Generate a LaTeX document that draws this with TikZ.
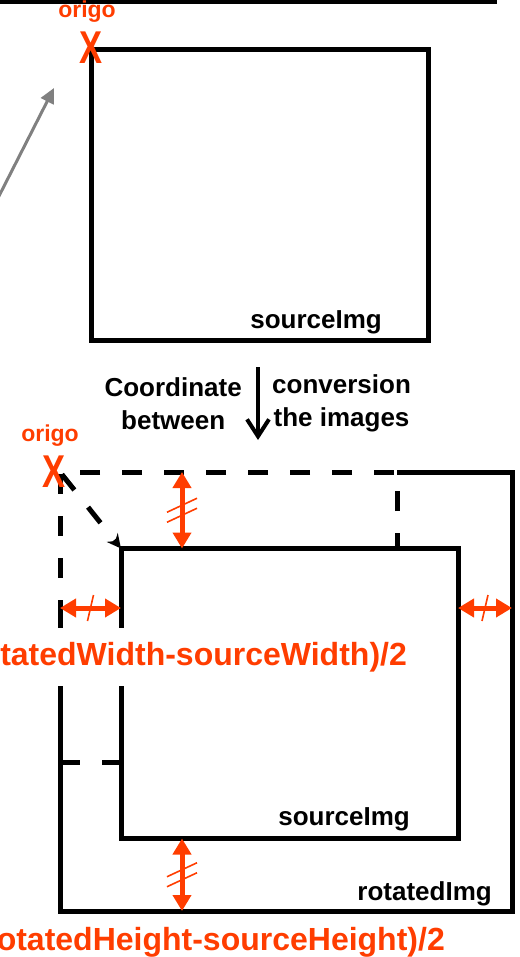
\documentclass[tikz,border=0pt]{standalone}
\usepackage{graphicx}
\usepackage{fontspec}
\setmainfont{Liberation Sans}
\usetikzlibrary{arrows.meta,positioning}
\definecolor{markred}{RGB}{255,61,0}

\begin{document}
\begin{tikzpicture}[
    x=1pt, y=-1pt,
    node distance=14pt,
    imgbox/.style={rectangle, draw, line width=5pt, outer sep=0pt, inner sep=0pt, minimum width=337pt, minimum height=290pt},
    tag/.style={font=\fontsize{26}{33}\selectfont\bfseries, inner sep=0pt},
    redtag/.style={text=markred, font=\fontsize{32}{36}\selectfont\bfseries, inner sep=0pt},
    origotag/.style={text=markred, font=\fontsize{23}{23}\selectfont\bfseries, inner sep=0pt},
    crossmark/.style={text=markred, font=\fontsize{46}{46}\selectfont\bfseries, inner sep=0pt},
    gap/.style={draw=markred, line width=5pt, {Triangle[length=16pt,width=18pt]}-{Triangle[length=16pt,width=18pt]}},
    hash/.style={draw=markred, line width=1.6pt},
    ghost/.style={dash pattern=on 20pt off 22pt, line width=5pt},
    pointer/.style={draw=black!50, line width=3pt, -{Triangle[length=15pt,width=14pt]}}
    ]
    \clip (0,0) rectangle (519,957);

    % top part
    \coordinate (ruleL) at (0,2);
    \coordinate (ruleR) at (497,2);
    \draw[line width=4pt] (ruleL) -- (ruleR);

    \node (srcimg) [imgbox] at (259.5,195) {};
    \node (srcname) [tag, anchor=base east] at ([shift={(-46,-12)}]srcimg.south east) {sourceImg};
    \node (crossA) [crossmark] at ([shift={(0,-2)}]srcimg.north west) {\scalebox{0.75}[1]{X}};
    \node (origoA) [origotag, above=9pt of crossA, xshift=-4pt] {origo};

    \coordinate (ptrtail) at (-2,198);
    \coordinate (ptrhead) at (54,88);
    \draw[pointer] (ptrtail) -- (ptrhead);

    % conversion
    \coordinate (convtop) at (258,367);
    \coordinate (convbot) at (258,440);
    \draw[line width=4pt, -{Straight Barb[length=17pt,width=22pt]}] (convtop) -- coordinate (convmid) (convbot);
    \node (convleft) [tag, align=center, left=16pt of convmid] {Coordinate\\between};
    \node (convright) [tag, align=center, right=14pt of convmid] {conversion\\the images};

    % rotated image
    \node (rotimg) [imgbox, draw=none, minimum width=452pt, minimum height=439pt] at (286,691.5) {};
    \node (origsrc) [imgbox, draw, ghost] at (228.5,617) {};
    \draw[line width=5pt] (origsrc.north east) -- (rotimg.north east) -- (rotimg.south east) -- (rotimg.south west) -- (origsrc.west);
    \node (movedsrc) [imgbox, fill=white] at (289.5,693.5) {};
    \node (movedname) [tag, anchor=base east] at ([shift={(-48,-13)}]movedsrc.south east) {sourceImg};
    \node (rotname) [tag, anchor=base east] at ([shift={(-20,-11)}]rotimg.south east) {rotatedImg};

    \node (crossB) [crossmark] at ([shift={(-6,0)}]rotimg.north west) {\scalebox{0.75}[1]{X}};
    \node (origoB) [origotag, above=9pt of crossB, xshift=-4pt] {origo};
    \draw[ghost, -{Stealth[length=14pt,width=14pt]}, shorten <=3pt] (rotimg.north west) -- (movedsrc.north west);

    \node (wgap) [redtag, fill=white, inner ysep=14pt, anchor=base east] at (407,665) {(rotatedWidth-sourceWidth)/2};
    \node (hgap) [redtag, anchor=base east] at (445,950) {(rotatedHeight-sourceHeight)/2};

    % gaps
    \coordinate (gapx) at (182,0);
    \coordinate (gapy) at (0,608);
    \draw[gap] (gapx |- rotimg.north) -- coordinate (gapT) (gapx |- movedsrc.north);
    \draw[hash] ([shift={(-15,2)}]gapT) -- ++(30,-14);
    \draw[hash] ([shift={(-15,12)}]gapT) -- ++(30,-14);
    \draw[gap] (gapx |- movedsrc.south) -- coordinate (gapB) (gapx |- rotimg.south);
    \draw[hash] ([shift={(-15,2)}]gapB) -- ++(30,-14);
    \draw[hash] ([shift={(-15,12)}]gapB) -- ++(30,-14);
    \draw[gap] (rotimg.west |- gapy) -- coordinate (gapL) (movedsrc.west |- gapy);
    \draw[hash] ([shift={(-3,13)}]gapL) -- ++(6,-26);
    \draw[gap] (movedsrc.east |- gapy) -- coordinate (gapR) (rotimg.east |- gapy);
    \draw[hash] ([shift={(-3,13)}]gapR) -- ++(6,-26);
\end{tikzpicture}
\end{document}
